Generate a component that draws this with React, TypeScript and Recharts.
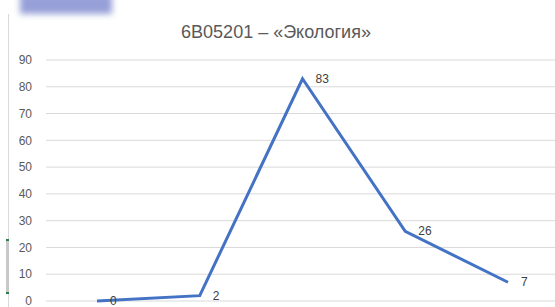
import React from "react";
import { LineChart, Line, XAxis, YAxis, CartesianGrid, LabelList } from "recharts";

// категории (подписи оси X в оригинале обрезаны)
const categories = ["1", "2", "3", "4", "5"];
const values = [0, 2, 83, 26, 7];
const yTicks = [0, 10, 20, 30, 40, 50, 60, 70, 80, 90];

const data = categories.map((name, i) => ({ name, value: values[i] }));

const FONT = "'Liberation Sans', 'DejaVu Sans', sans-serif";

const PointLabel = (props: any) => {
  const { x, y, value } = props;
  return (
    <text
      x={x + 13}
      y={y}
      dy={4}
      fill="#404040"
      fontSize={12}
      fontFamily={FONT}
      textAnchor="start"
    >
      {value}
    </text>
  );
};

export default function App() {
  return (
    <div
      style={{
        position: "absolute",
        left: 0,
        top: 0,
        width: 555,
        height: 307,
        overflow: "hidden",
        background: "#fff",
      }}
    >
      {/* размытое пятно сверху слева */}
      <div
        style={{
          position: "absolute",
          left: 20,
          top: -6,
          width: 92,
          height: 20,
          background: "#97a0d8",
          filter: "blur(3px)",
        }}
      />
      {/* рамка области диаграммы */}
      <div
        style={{
          position: "absolute",
          left: 8,
          top: 14,
          width: 1,
          height: 300,
          background: "#d9d9d9",
        }}
      />
      <div
        style={{
          position: "absolute",
          left: 6,
          top: 240,
          width: 3,
          height: 53,
          background: "#c8c8c8",
        }}
      />
      <div
        style={{
          position: "absolute",
          left: 6,
          top: 239,
          width: 3,
          height: 2,
          background: "#2e7d4f",
        }}
      />
      <div
        style={{
          position: "absolute",
          left: 6,
          top: 292,
          width: 3,
          height: 2,
          background: "#2e7d4f",
        }}
      />
      <div
        style={{
          position: "absolute",
          left: 176,
          top: 22,
          width: 200,
          textAlign: "center",
          fontFamily: FONT,
          fontSize: 18,
          color: "#595959",
          whiteSpace: "nowrap",
        }}
      >
        6B05201 – «Экология»
      </div>
      <div style={{ position: "absolute", left: 0, top: 0 }}>
        <LineChart
          width={600}
          height={320}
          data={data}
          margin={{ top: 60, right: 41, bottom: 19, left: 6 }}
        >
          <CartesianGrid vertical={false} stroke="#d9d9d9" strokeWidth={1} />
          <XAxis
            dataKey="name"
            hide
            padding={{ left: 51, right: 51 }}
          />
          <YAxis
            width={40}
            domain={[0, 90]}
            ticks={yTicks}
            axisLine={false}
            tickLine={false}
            tickMargin={8}
            tick={{ fill: "#595959", fontSize: 12, fontFamily: FONT }}
          />
          <Line
            type="linear"
            dataKey="value"
            stroke="#4472c4"
            strokeWidth={3}
            dot={false}
            activeDot={false}
            isAnimationActive={false}
          >
            <LabelList dataKey="value" content={<PointLabel />} />
          </Line>
        </LineChart>
      </div>
    </div>
  );
}
